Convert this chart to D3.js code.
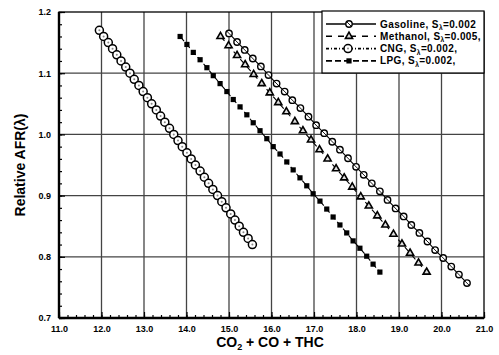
<!DOCTYPE html>
<html><head><meta charset="utf-8">
<script src="https://cdn.jsdelivr.net/npm/d3@7"></script>
<style>
html,body{margin:0;padding:0;background:#fff;}
svg{display:block;font-family:"Liberation Sans",Arial,sans-serif;}
</style></head>
<body><svg id="c" width="499" height="355"></svg>
<script>
// ---------- data ----------
const xTicks = [11,12,13,14,15,16,17,18,19,20,21];
const yTicks = [0.7,0.8,0.9,1.0,1.1,1.2];
const seriesNames = ["Gasoline, S","Methanol, S","CNG, S","LPG, S"];
const seriesSuffix = ["=0.002","=0.005,","=0.002,","=0.002,"];

const gasolineX = [15.00,15.19,15.37,15.56,15.75,15.93,16.12,16.31,16.49,16.68,16.87,17.05,17.24,17.43,17.61,17.80,17.99,18.17,18.36,18.55,18.73,18.92,19.11,19.29,19.48,19.67,19.85,20.04,20.23,20.41,20.60];
const gasolineY = [1.165,1.151,1.138,1.124,1.111,1.097,1.083,1.070,1.056,1.043,1.029,1.015,1.002,0.988,0.975,0.961,0.947,0.934,0.920,0.907,0.893,0.879,0.866,0.852,0.839,0.825,0.811,0.798,0.784,0.771,0.757];

const methanolX = [14.80,14.99,15.19,15.38,15.58,15.77,15.96,16.16,16.35,16.55,16.74,16.93,17.13,17.32,17.52,17.71,17.90,18.10,18.29,18.49,18.68,18.87,19.07,19.26,19.46,19.65];
const methanolY = [1.160,1.145,1.129,1.114,1.098,1.083,1.068,1.052,1.037,1.021,1.006,0.991,0.975,0.960,0.944,0.929,0.914,0.898,0.883,0.867,0.852,0.837,0.821,0.806,0.790,0.775];

const cngX = [11.95,12.05,12.16,12.26,12.36,12.46,12.57,12.67,12.77,12.88,12.98,13.08,13.18,13.29,13.39,13.49,13.60,13.70,13.80,13.90,14.01,14.11,14.21,14.32,14.42,14.52,14.62,14.73,14.83,14.93,15.04,15.14,15.24,15.34,15.45,15.55];
const cngY = [1.17,1.16,1.15,1.14,1.13,1.12,1.11,1.10,1.09,1.08,1.07,1.06,1.05,1.04,1.03,1.02,1.01,1.00,0.99,0.98,0.97,0.96,0.95,0.94,0.93,0.92,0.91,0.90,0.89,0.88,0.87,0.86,0.85,0.84,0.83,0.82];

const lpgX = [13.85,14.01,14.16,14.32,14.48,14.63,14.79,14.95,15.10,15.26,15.42,15.57,15.73,15.89,16.04,16.20,16.36,16.51,16.67,16.83,16.98,17.14,17.30,17.45,17.61,17.77,17.92,18.08,18.24,18.39,18.55];
const lpgY = [1.160,1.147,1.134,1.122,1.109,1.096,1.083,1.070,1.057,1.045,1.032,1.019,1.006,0.993,0.980,0.968,0.955,0.942,0.929,0.916,0.903,0.891,0.878,0.865,0.852,0.839,0.826,0.814,0.801,0.788,0.775];

// ---------- layout ----------
const L=59, R=484, T=12, B=318;
const svg = d3.select("#c");
const x = d3.scaleLinear().domain([11,21]).range([L,R]);
const y = d3.scaleLinear().domain([0.7,1.2]).range([B,T]);

// grid
const g = svg.append("g");
g.selectAll("line.vx").data(xTicks.slice(1,-1)).join("line")
  .attr("x1",d=>x(d)).attr("x2",d=>x(d)).attr("y1",T).attr("y2",B)
  .attr("stroke","#444").attr("stroke-width",1.3);
g.selectAll("line.hy").data(yTicks.slice(1,-1)).join("line")
  .attr("x1",L).attr("x2",R).attr("y1",d=>y(d)).attr("y2",d=>y(d))
  .attr("stroke","#444").attr("stroke-width",1.3);

// axes (inward ticks)
const xAxis = d3.axisBottom(x).tickValues(xTicks).tickFormat(d3.format(".1f")).tickSize(-6).tickPadding(8);
const yAxis = d3.axisLeft(y).tickValues(yTicks).tickFormat(d3.format(".1f")).tickSize(-6).tickPadding(8);
const xMinor = d3.axisBottom(x).tickValues(d3.range(11,21.001,0.2)).tickFormat("").tickSize(-3);
const yMinor = d3.axisLeft(y).tickValues(d3.range(0.7,1.2001,0.02)).tickFormat("").tickSize(-3);
[["x",xMinor],["y",yMinor],["x",xAxis],["y",yAxis]].forEach(([k,ax])=>{
  const a = svg.append("g").attr("transform", k==="x" ? `translate(0,${B})` : `translate(${L},0)`).call(ax);
  a.select(".domain").remove();
  a.selectAll("line").attr("stroke","#000").attr("stroke-width",1.2);
  a.selectAll("text").attr("font-size",9).attr("font-weight","bold").attr("fill","#000");
});
// frame
svg.append("rect").attr("x",L).attr("y",T).attr("width",R-L).attr("height",B-T)
  .attr("fill","none").attr("stroke","#000").attr("stroke-width",1.3);
svg.append("line").attr("x1",L).attr("x2",R).attr("y1",B).attr("y2",B).attr("stroke","#000").attr("stroke-width",2.4);
svg.append("line").attr("x1",L).attr("x2",L).attr("y1",T).attr("y2",B).attr("stroke","#000").attr("stroke-width",2.4);

// series
const series = [
  {xs:gasolineX, ys:gasolineY, dash:null, marker:"circleSmall"},
  {xs:methanolX, ys:methanolY, dash:"6,4", marker:"triangle"},
  {xs:cngX, ys:cngY, dash:"5,2,1,2", marker:"circle"},
  {xs:lpgX, ys:lpgY, dash:"6,3", marker:"square"}
];
const line = d3.line().x(d=>x(d[0])).y(d=>y(d[1]));
function drawMarker(sel, type){
  if(type==="circle"){
    sel.append("circle").attr("r",4).attr("fill","#fff").attr("stroke","#000").attr("stroke-width",1.5);
    sel.append("circle").attr("r",1).attr("fill","#888");
  } else if(type==="circleSmall"){
    sel.append("circle").attr("r",3.2).attr("fill","#fff").attr("stroke","#000").attr("stroke-width",1.4);
    sel.append("line").attr("x1",-2.3).attr("y1",-2.3).attr("x2",2.3).attr("y2",2.3).attr("stroke","#000").attr("stroke-width",0.9);
  } else if(type==="triangle"){
    sel.append("path").attr("d",d3.symbol(d3.symbolTriangle,22)()).attr("fill","#ddd").attr("stroke","#000").attr("stroke-width",1.6);
  } else {
    sel.append("rect").attr("x",-2.6).attr("y",-2.6).attr("width",5.2).attr("height",5.2).attr("fill","#000");
  }
}
series.forEach(s=>{
  const pts = s.xs.map((v,i)=>[v,s.ys[i]]);
  svg.append("path").datum(pts).attr("d",line).attr("fill","none").attr("stroke","#000")
    .attr("stroke-width",1.1).attr("stroke-dasharray",s.dash);
  svg.append("g").selectAll("g").data(pts).join("g")
    .attr("transform",d=>`translate(${x(d[0])},${y(d[1])})`)
    .each(function(){ drawMarker(d3.select(this), s.marker); });
});

// legend
const lg = svg.append("g");
lg.append("rect").attr("x",322).attr("y",11).attr("width",162).attr("height",62)
  .attr("fill","#fff").attr("stroke","#000").attr("stroke-width",1.2);
const legDash = [null,"6,6","3,2,1,2","6,3"];
series.forEach((s,i)=>{
  const yy = 24 + i*12.3;
  lg.append("line").attr("x1",326).attr("x2",376).attr("y1",yy).attr("y2",yy)
    .attr("stroke","#000").attr("stroke-width",1.6).attr("stroke-dasharray",legDash[i]);
  const m = lg.append("g").attr("transform",`translate(${i===2?348:349},${yy})`);
  drawMarker(m, s.marker);
  const t = lg.append("text").attr("x",380).attr("y",yy+3.5).attr("font-size",10)
    .attr("font-weight","bold").attr("letter-spacing","0.4").attr("fill","#000");
  t.append("tspan").text(seriesNames[i]);
  t.append("tspan").attr("font-size",6.5).attr("dy",2.5).text("λ");
  t.append("tspan").attr("dy",-2.5).text(seriesSuffix[i]);
});

// titles
svg.append("text").attr("x",270).attr("y",347).attr("text-anchor","middle")
  .attr("font-size",14).attr("font-weight","bold").attr("fill","#000")
  .call(t=>{ t.append("tspan").text("CO"); t.append("tspan").attr("font-size",9).attr("dy",3).text("2");
             t.append("tspan").attr("dy",-3).text(" + CO + THC"); });
svg.append("text").attr("transform","translate(25,165) rotate(-90)").attr("text-anchor","middle")
  .attr("font-size",14).attr("font-weight","bold").attr("fill","#000").text("Relative AFR(λ)");
</script></body></html>
